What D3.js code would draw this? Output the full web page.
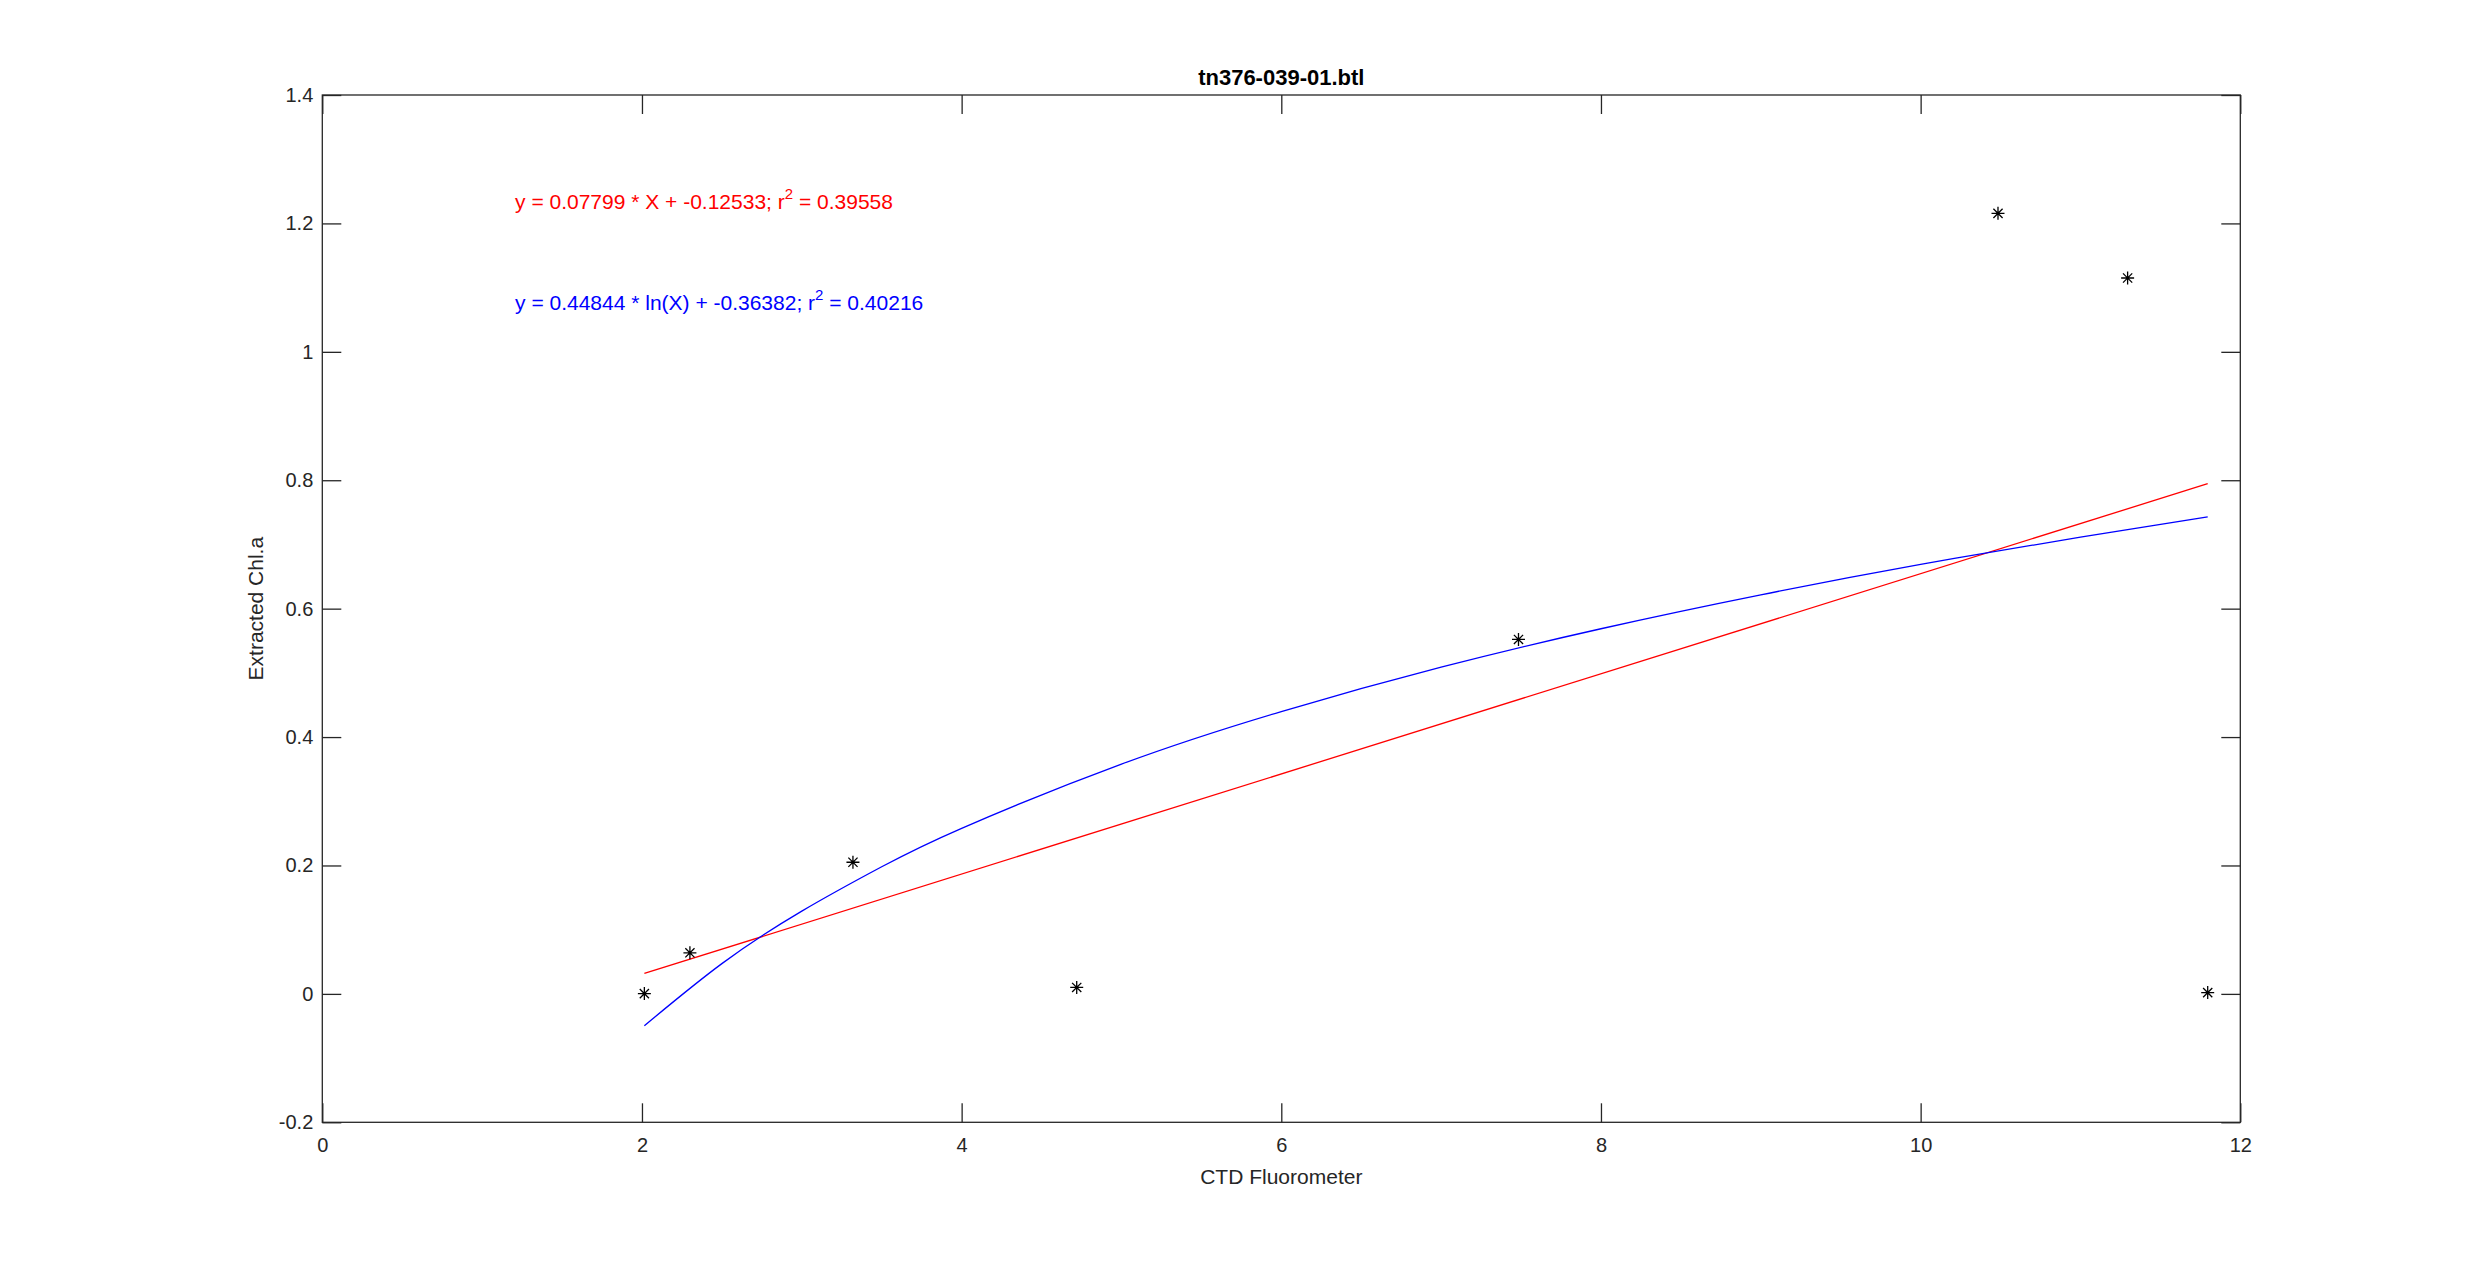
<!DOCTYPE html>
<html>
<head>
<meta charset="utf-8">
<script src="https://cdn.jsdelivr.net/npm/d3@7"></script>
<style>
  html, body { margin: 0; padding: 0; background: #fff; }
  svg { display: block; }
  text { font-family: "Liberation Sans", Arial, Helvetica, sans-serif; }
</style>
</head>
<body>
<svg id="chart" width="2475" height="1261"></svg>
<script>
// ---- data ----
const title = "tn376-039-01.btl";
const xLabel = "CTD Fluorometer";
const yLabel = "Extracted Chl.a";
const xTicks = [0, 2, 4, 6, 8, 10, 12];
const yTicks = [-0.2, 0, 0.2, 0.4, 0.6, 0.8, 1, 1.2, 1.4];
const pointsX = [2.015, 2.30, 3.32, 4.72, 7.484, 10.484, 11.295, 11.796];
const pointsY = [0.0005, 0.064, 0.205, 0.010, 0.552, 1.2157, 1.115, 0.002];
// linear fit line
const linX = [2.015, 11.796];
const linY = [0.0318, 0.7946];
// log fit curve
const logX = [2.015, 2.5, 3, 3.5, 4, 5, 6, 7, 8, 9, 10, 11, 11.796];
const logY = [-0.0496, 0.0471, 0.1289, 0.1980, 0.2579, 0.3579, 0.4397, 0.5088, 0.5687, 0.6215, 0.6688, 0.7115, 0.7428];
const eqLin = ["y = 0.07799 * X + -0.12533; r", "2", " = 0.39558"];
const eqLog = ["y = 0.44844 * ln(X) + -0.36382; r", "2", " = 0.40216"];

// ---- layout ----
const L = 322.3, R = 2240.3, T = 95, B = 1122.3;
const axisColor = "#262626";
const fs = 20;

const svg = d3.select("#chart");
const x = d3.scaleLinear().domain([0, 12]).range([L, R]);
const y = d3.scaleLinear().domain([-0.2, 1.4]).range([B, T]);

const fmt = v => (Math.abs(v) < 1e-9 ? "0" : String(+v.toFixed(2)));

// box
svg.append("rect").attr("x", L).attr("y", T).attr("width", R - L).attr("height", B - T)
  .attr("fill", "none").attr("stroke", axisColor).attr("stroke-width", 1.3);

const tickLen = 19;
// x axis bottom
const gxb = svg.append("g").attr("transform", `translate(0,${B})`)
  .call(d3.axisBottom(x).tickValues(xTicks).tickSize(-tickLen).tickPadding(16).tickFormat(fmt));
// x axis top (mirror ticks)
const gxt = svg.append("g").attr("transform", `translate(0,${T})`)
  .call(d3.axisTop(x).tickValues(xTicks).tickSize(-tickLen).tickFormat(""));
// y axis left
const gyl = svg.append("g").attr("transform", `translate(${L},0)`)
  .call(d3.axisLeft(y).tickValues(yTicks).tickSize(-tickLen).tickPadding(9).tickFormat(fmt));
// y axis right
const gyr = svg.append("g").attr("transform", `translate(${R},0)`)
  .call(d3.axisRight(y).tickValues(yTicks).tickSize(-tickLen).tickFormat(""));

[gxb, gxt, gyl, gyr].forEach(g => {
  g.attr("font-size", null).attr("font-family", null);
  g.select(".domain").remove();
  g.selectAll(".tick line").attr("stroke", axisColor).attr("stroke-width", 1.3);
  g.selectAll(".tick text").attr("fill", axisColor)
    .style("font-family", '"Liberation Sans", Arial, sans-serif').style("font-size", fs + "px");
});

// title
svg.append("text").attr("x", (L + R) / 2).attr("y", 85).attr("text-anchor", "middle")
  .style("font-size", "22px").style("font-weight", "bold").attr("fill", "#000").text(title);
// x label
svg.append("text").attr("x", (L + R) / 2).attr("y", 1184).attr("text-anchor", "middle")
  .style("font-size", "21px").attr("fill", axisColor).text(xLabel);
// y label
svg.append("text").attr("transform", `translate(263,${(T + B) / 2}) rotate(-90)`).attr("text-anchor", "middle")
  .style("font-size", "21px").attr("fill", axisColor).text(yLabel);

// fit lines
const clipId = "plotclip";
svg.append("clipPath").attr("id", clipId).append("rect")
  .attr("x", L).attr("y", T).attr("width", R - L).attr("height", B - T);

const line = d3.line().x(d => x(d[0])).y(d => y(d[1]));
svg.append("path").datum(d3.zip(linX, linY)).attr("d", line)
  .attr("fill", "none").attr("stroke", "#ff0000").attr("stroke-width", 1.3).attr("clip-path", `url(#${clipId})`);
svg.append("path").datum(d3.zip(logX, logY)).attr("d", line.curve(d3.curveNatural))
  .attr("fill", "none").attr("stroke", "#0000ff").attr("stroke-width", 1.3).attr("clip-path", `url(#${clipId})`);

// star markers
const r1 = 6.5, r2 = 4.6;
const stars = svg.append("g");
d3.zip(pointsX, pointsY).forEach(([px, py]) => {
  const cx = x(px), cy = y(py);
  const p = `M${cx - r1},${cy}H${cx + r1}M${cx},${cy - r1}V${cy + r1}` +
            `M${cx - r2},${cy - r2}L${cx + r2},${cy + r2}M${cx - r2},${cy + r2}L${cx + r2},${cy - r2}`;
  stars.append("path").attr("d", p).attr("stroke", "#000").attr("stroke-width", 1.3).attr("fill", "none");
});

// equations
function eq(parts, xv, yv, color) {
  const t = svg.append("text").attr("x", x(xv)).attr("y", y(yv)).attr("fill", color).style("font-size", "21px");
  t.append("tspan").text(parts[0]);
  t.append("tspan").attr("dy", -10).style("font-size", "15px").text(parts[1]);
  t.append("tspan").attr("dy", 10).text(parts[2]);
}
eq(eqLin, 1.206, 1.222, "#ff0000");
eq(eqLog, 1.206, 1.065, "#0000ff");
</script>
</body>
</html>
